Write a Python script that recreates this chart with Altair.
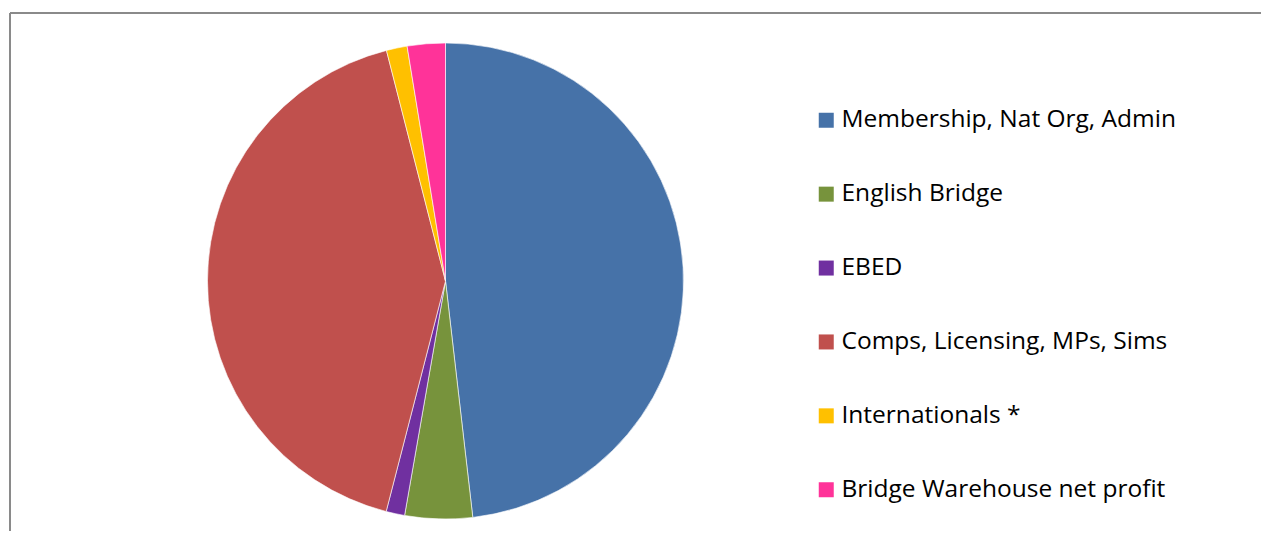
import altair as alt
import pandas as pd

categories = [
    "Membership, Nat Org, Admin",
    "English Bridge",
    "EBED",
    "Comps, Licensing, MPs, Sims",
    "Internationals *",
    "Bridge Warehouse net profit",
]
values = [48.17, 4.58, 1.26, 42.0, 1.41, 2.58]
colors = ["#4672A8", "#77933C", "#7030A0", "#C0504D", "#FFC000", "#FF3399"]

df = pd.DataFrame({"cat": categories, "val": values, "idx": list(range(len(categories)))})

W, H = 1253, 523

pie = alt.Chart(df).mark_arc(radius=238, stroke="#ffffff", strokeWidth=0.6).encode(
    theta=alt.Theta("val:Q", stack=True),
    order=alt.Order("idx:Q"),
    color=alt.Color(
        "cat:N",
        scale=alt.Scale(domain=categories, range=colors),
        sort=categories,
        legend=alt.Legend(
            title=None,
            orient="none",
            legendX=806,
            legendY=100,
            symbolType="square",
            symbolSize=225,
            symbolStrokeWidth=0,
            labelFont="Open Sans",
            labelFontSize=24.5,
            labelColor="#000000",
            labelOffset=3,
            rowPadding=48.9,
            labelLimit=600,
        ),
    ),
    x=alt.value(437.5),
    y=alt.value(273),
)

border_top = alt.Chart(df).mark_rule(color="#8a8a8a", strokeWidth=2).encode(
    x=alt.value(2), x2=alt.value(W + 20), y=alt.value(5)
)
border_left = alt.Chart(df).mark_rule(color="#8a8a8a", strokeWidth=2).encode(
    x=alt.value(2), y=alt.value(5), y2=alt.value(H + 20)
)

chart = alt.layer(pie, border_top, border_left).properties(
    width=W, height=H, padding=0, autosize=alt.AutoSizeParams(type="none")
).configure_view(stroke=None)

chart.save("out.html", embed_options={"renderer": "svg", "actions": False})
